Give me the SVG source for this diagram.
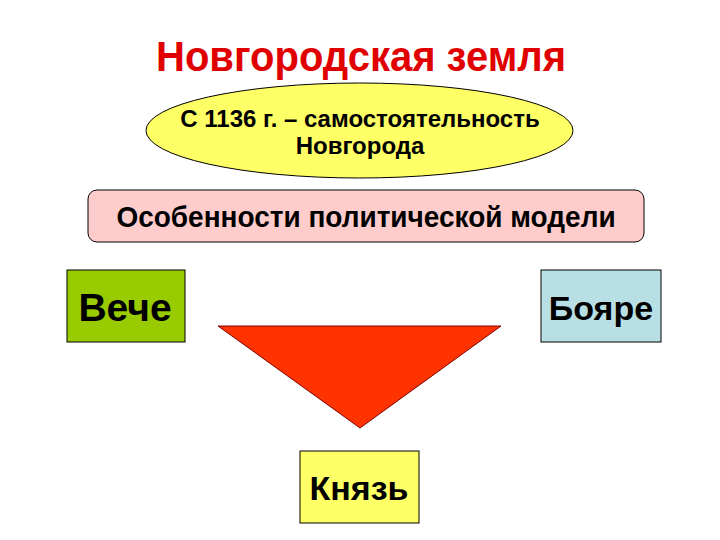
<svg xmlns="http://www.w3.org/2000/svg" width="720" height="540" viewBox="0 0 720 540">
<style>
text{font-family:"Liberation Sans",Arial,sans-serif;font-weight:bold;text-anchor:middle;fill:#000}
.box{stroke:#000;stroke-width:1}
</style>
<rect width="720" height="540" fill="#fff"/>
<g id="title"><text transform="translate(361,71) scale(1,1.05)" font-size="40" style="fill:#e00000">Новгородская земля</text></g>
<g id="ellipse">
<ellipse cx="359.5" cy="130.5" rx="213.5" ry="47.5" fill="#ffff66" class="box"/>
<text x="360" y="127" font-size="24">С 1136 г. – самостоятельность</text>
<text x="360" y="154" font-size="24">Новгорода</text>
</g>
<g id="model">
<rect x="88" y="190" width="556" height="52" rx="9" fill="#ffcccc" class="box"/>
<text transform="translate(366,227) scale(1,1.05)" font-size="28">Особенности политической модели</text>
</g>
<g id="veche">
<rect x="67" y="270" width="118" height="72" fill="#99cc00" class="box"/>
<text x="125" y="321" font-size="39">Вече</text>
</g>
<g id="boyare">
<rect x="541" y="270" width="120" height="72" fill="#b8dfe3" class="box"/>
<text x="601" y="320" font-size="34">Бояре</text>
</g>
<g id="connectors">
<polygon points="218,326 501,326 360,428" fill="#ff3300" stroke="#800000" stroke-width="1"/>
</g>
<g id="knyaz">
<rect x="300" y="451" width="119" height="72" fill="#ffff66" class="box"/>
<text x="359" y="500" font-size="34">Князь</text>
</g>
</svg>
